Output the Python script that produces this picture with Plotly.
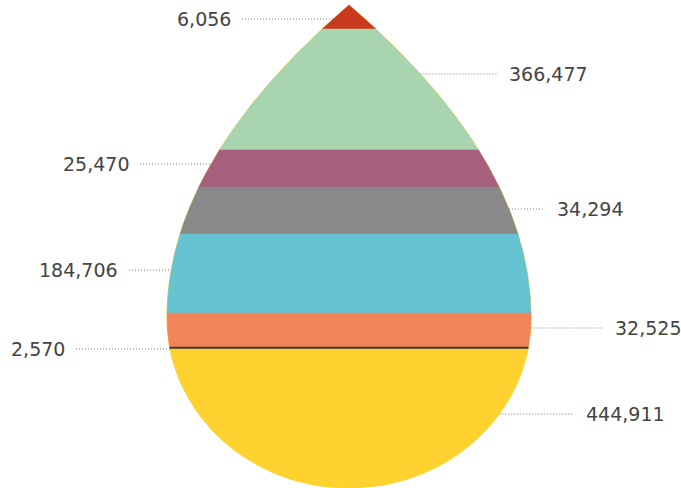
import numpy as np
import plotly.graph_objects as go

# ---- data (top of the drop to the bottom) ----
values = [6056, 366477, 25470, 34294, 184706, 32525, 2570, 444911]
labels = [f"{v:,}" for v in values]
# share of the drop's height taken by each band (px of 483)
band_share = [24, 121, 37, 47, 79, 34, 2, 139]

# ---- style / layout ----
colors = ["#C9391E", "#A8D4AF", "#A6607E", "#898989", "#66C3D0", "#F1845A", "#3B3B3B", "#FFD230"]
sides = ["left", "right", "left", "right", "left", "right", "left", "right"]
label_y = [19, 74, 164, 209, 270, 328, 349, 414]
label_x = [233, 507, 131, 555, 120, 613, 67, 584]

W, H = 681, 488
cx, tip_y, eq_y, bot_y, half_w = 349, 5, 318, 488, 182


def half_width(y):
    y = np.asarray(y, dtype=float)
    s = np.clip((y - tip_y) / (eq_y - tip_y), 0, 1)
    upper = half_w * (1 - (1 - s) ** 2)
    t = np.clip((y - eq_y) / (bot_y - eq_y), 0, 1)
    lower = half_w * np.sqrt(np.clip(1 - t ** 2, 0, 1))
    return np.where(y <= eq_y, upper, lower)


def band_polygon(y0, y1, n=80):
    ys = np.linspace(y0, y1, n)
    w = half_width(ys)
    xs = np.concatenate([cx - w, (cx + w)[::-1], [cx - w[0]]])
    yy = np.concatenate([ys, ys[::-1], [ys[0]]])
    return xs, yy


fig = go.Figure()

# whole drop underneath (gives the faint yellow rim)
xs, ys = band_polygon(tip_y, bot_y, 400)
fig.add_trace(go.Scatter(x=xs, y=ys, fill="toself", fillcolor=colors[-1],
                         line=dict(color=colors[-1], width=1), mode="lines",
                         hoverinfo="skip", showlegend=False))

total_share = sum(band_share)
edges = [tip_y]
for sh in band_share:
    edges.append(edges[-1] + sh / total_share * (bot_y - tip_y))

for i, v in enumerate(values):
    xs, ys = band_polygon(edges[i], edges[i + 1])
    fig.add_trace(go.Scatter(x=xs, y=ys, fill="toself", fillcolor=colors[i],
                             line=dict(color=colors[i], width=0.5), mode="lines",
                             name=labels[i], hoverinfo="name", showlegend=False))

# leader lines + labels
for i, lab in enumerate(labels):
    y = label_y[i]
    w = float(half_width(y))
    if sides[i] == "left":
        x0, x1 = label_x[i] + 9, cx - w
        anchor = "right"
    else:
        x0, x1 = cx + w, label_x[i] - 10
        anchor = "left"
    fig.add_trace(go.Scatter(x=[x0, x1], y=[y, y], mode="lines",
                             line=dict(color="#7a7a7a", width=1, dash="1px,2px"),
                             hoverinfo="skip", showlegend=False))
    fig.add_annotation(x=label_x[i], y=y, text=lab, showarrow=False,
                       xanchor=anchor, yanchor="middle",
                       font=dict(family="DejaVu Sans", size=19, color="#444444"))

fig.update_layout(
    width=W, height=H, margin=dict(l=0, r=0, t=0, b=0),
    paper_bgcolor="white", plot_bgcolor="white",
    xaxis=dict(range=[0, W], visible=False, fixedrange=True),
    yaxis=dict(range=[H, 0], visible=False, fixedrange=True),
)

fig.write_html("out.html", config={"displayModeBar": False},
               post_script="document.body.style.margin='0';document.body.style.overflow='hidden';")
